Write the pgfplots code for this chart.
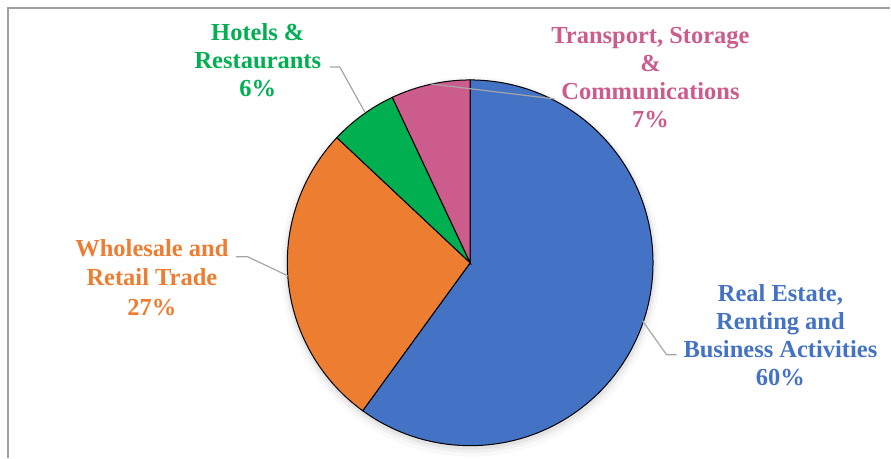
\documentclass[border=0pt]{standalone}
\usepackage{pgfplots}
\pgfplotsset{compat=1.18}
\usepackage{pgfplotstable}
\usepackage{fontspec}
\setmainfont{Liberation Serif}
\definecolor{reblue}{HTML}{4472C4}
\definecolor{wsorange}{HTML}{ED7D31}
\definecolor{hrgreen}{HTML}{00B050}
\definecolor{tspink}{HTML}{CB5C8C}
\definecolor{leader}{HTML}{A6A6A6}
\definecolor{frame}{HTML}{A0A0A0}
\pgfplotstableread{
share
60
27
6
7
}\piedata
\pgfplotstablegetelem{0}{share}\of\piedata \let\va\pgfplotsretval
\pgfplotstablegetelem{1}{share}\of\piedata \let\vb\pgfplotsretval
\pgfplotstablegetelem{2}{share}\of\piedata \let\vc\pgfplotsretval
\pgfplotstablegetelem{3}{share}\of\piedata \let\vd\pgfplotsretval
\pgfmathsetmacro{\aA}{90}
\pgfmathsetmacro{\aB}{90-\va*3.6}
\pgfmathsetmacro{\aC}{\aB-\vb*3.6}
\pgfmathsetmacro{\aD}{\aC-\vc*3.6}
\pgfmathsetmacro{\aE}{\aD-\vd*3.6}
\begin{document}
\begin{tikzpicture}
\begin{axis}[scale only axis, width=891pt, height=458pt,
  xmin=0, xmax=891, ymin=0, ymax=458, hide axis, clip=false]
\path (axis cs:0,0) rectangle (axis cs:891,458);
% frame
\draw[frame, line width=1.3pt] (axis cs:8,0) -- (axis cs:8,450) -- (axis cs:891,450);
% soft shadow
\fill[black, opacity=0.025] (axis cs:471,191) circle[radius=190pt];
\fill[black, opacity=0.035] (axis cs:471,192) circle[radius=187pt];
\fill[black, opacity=0.05] (axis cs:471,193) circle[radius=185pt];
% slices
\filldraw[fill=reblue, draw=black, line width=1pt] (axis cs:470.5,195) -- ++(\aA:183pt) arc[start angle=\aA, end angle=\aB, radius=183pt] -- cycle;
\filldraw[fill=wsorange, draw=black, line width=1pt] (axis cs:470.5,195) -- ++(\aB:183pt) arc[start angle=\aB, end angle=\aC, radius=183pt] -- cycle;
\filldraw[fill=hrgreen, draw=black, line width=1pt] (axis cs:470.5,195) -- ++(\aC:183pt) arc[start angle=\aC, end angle=\aD, radius=183pt] -- cycle;
\filldraw[fill=tspink, draw=black, line width=1pt] (axis cs:470.5,195) -- ++(\aD:183pt) arc[start angle=\aD, end angle=\aE, radius=183pt] -- cycle;
% leader lines
\draw[leader, line width=1.2pt] (axis cs:330,391) -- (axis cs:340,391) -- (axis cs:365,346);
\draw[leader, line width=1.2pt] (axis cs:431,374) -- (axis cs:555,359);
\draw[leader, line width=1.2pt] (axis cs:236,201) -- (axis cs:248,201) -- (axis cs:288,182);
\draw[leader, line width=1.2pt] (axis cs:643,137) -- (axis cs:667,103) -- (axis cs:677,103);
% labels
\node[align=center, inner sep=0pt, text=hrgreen, font=\fontsize{24.5}{28}\selectfont\bfseries] at (axis cs:258,398) {Hotels \&\\Restaurants\\6\%};
\node[align=center, inner sep=0pt, text=tspink, font=\fontsize{24.5}{28}\selectfont\bfseries] at (axis cs:651,380) {Transport, Storage\\\&\\Communications\\7\%};
\node[align=center, inner sep=0pt, text=wsorange, font=\fontsize{24.5}{29.5}\selectfont\bfseries] at (axis cs:152,180.5) {Wholesale and\\Retail Trade\\27\%};
\node[align=center, inner sep=0pt, text=reblue, font=\fontsize{24.5}{28}\selectfont\bfseries] at (axis cs:781,123) {Real Estate,\\Renting and\\Business Activities\\60\%};
\end{axis}
\end{tikzpicture}
\end{document}
